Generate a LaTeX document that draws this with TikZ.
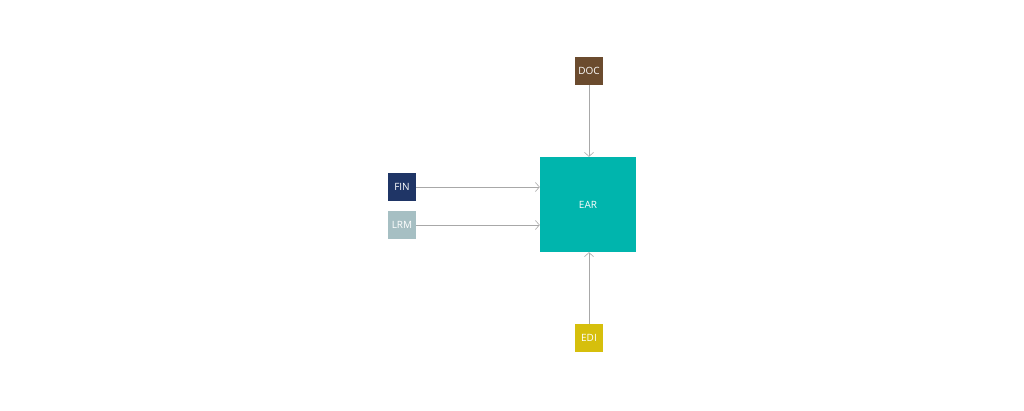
\documentclass[tikz,border=0pt]{standalone}
\usepackage{fontspec}
\setmainfont{Open Sans}
\usetikzlibrary{arrows.meta}
\definecolor{docbrown}{HTML}{6B4B2E}
\definecolor{earteal}{HTML}{00B5AD}
\definecolor{finblue}{HTML}{1F3566}
\definecolor{lrmgrey}{HTML}{A6BFC3}
\definecolor{ediyellow}{HTML}{D6BF0C}
\definecolor{linkgrey}{HTML}{A8A8A8}
\tikzset{
	sysbox/.style={minimum width=28pt,minimum height=28pt,inner sep=0pt,text=white,font=\fontsize{10}{12}\selectfont},
	link/.style={draw=linkgrey,line width=0.6pt,-{Straight Barb[length=4pt,width=9pt]}}
}
\begin{document}
\begin{tikzpicture}
				\useasboundingbox (0,0) rectangle (1024pt,410pt);
				\node[sysbox,fill=earteal,minimum width=96pt,minimum height=95pt] (EAR) at (588pt,205.5pt) {EAR};
				\node[sysbox,fill=docbrown] (DOC) at (589pt,339pt) {DOC};
				\node[sysbox,fill=finblue] (FIN) at (402pt,223pt) {FIN};
				\node[sysbox,fill=lrmgrey] (LRM) at (402pt,185pt) {LRM};
				\node[sysbox,fill=ediyellow] (EDI) at (589pt,72pt) {EDI};
				\draw[link] (DOC.south)--(DOC.south |- EAR.north);
				\draw[link] (EDI.north)--(EDI.north |- EAR.south);
				\foreach \P in {FIN,LRM} \draw[link] (\P.east)--(\P.east -| EAR.west);
			\end{tikzpicture}
\end{document}
